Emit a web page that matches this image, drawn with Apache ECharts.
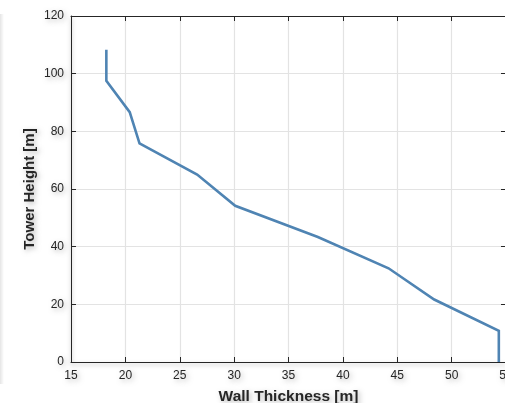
<!DOCTYPE html>
<html>
<head>
<meta charset="utf-8">
<script src="https://cdn.jsdelivr.net/npm/echarts@6/dist/echarts.min.js"></script>
<style>
  html, body { margin: 0; padding: 0; background: #ffffff; }
  #chart { width: 505px; height: 403px; }
</style>
</head>
<body>
<div id="chart"></div>
<script>
// Wall thickness profile along the tower height, from base to top
const wallThickness = [54.34, 54.34, 48.4, 44.2, 37.7, 30.1, 26.6, 21.3, 20.4, 18.25, 18.25];
const towerHeight   = [0, 10.83, 21.67, 32.5, 43.33, 54.17, 65, 75.83, 86.67, 97.5, 108.33];

const xTicks = { min: 15, max: 55, step: 5 };
const yTicks = { min: 0, max: 120, step: 20 };

const xName = 'Wall Thickness [m]';
const yName = 'Tower Height [m]';

const profile = wallThickness.map((t, i) => [t, towerHeight[i]]);

const FONT = '"Liberation Sans", Arial, Helvetica, sans-serif';
const shadowText = {
  textShadowColor: 'rgba(0,0,0,0.28)',
  textShadowBlur: 5,
  textShadowOffsetX: 2,
  textShadowOffsetY: 2
};
const axisLineStyle = {
  color: '#262626',
  width: 1,
  shadowColor: 'rgba(0,0,0,0.35)',
  shadowBlur: 4,
  shadowOffsetY: 2
};
const gridLine = { show: true, lineStyle: { color: '#e3e3e3', width: 1.2 } };

const chart = echarts.init(document.getElementById('chart'), null, { renderer: 'canvas' });

chart.setOption({
  animation: false,
  backgroundColor: '#ffffff',
  // the plot box runs slightly past the right edge of the canvas
  grid: { left: 71, top: 16, width: 435, height: 346, containLabel: false, outerBoundsMode: 'none' },
  graphic: [{
    type: 'rect',
    shape: { x: 0, y: 14, width: 4, height: 370 },
    style: {
      fill: new echarts.graphic.LinearGradient(0, 0, 1, 0, [
        { offset: 0, color: 'rgba(0,0,0,0.10)' },
        { offset: 1, color: 'rgba(0,0,0,0)' }
      ])
    },
    silent: true
  }],
  xAxis: [{
    type: 'value',
    min: xTicks.min, max: xTicks.max, interval: xTicks.step,
    position: 'bottom',
    name: xName,
    nameLocation: 'middle',
    nameGap: 27,
    nameMoveOverlap: false,
    nameTextStyle: Object.assign({ fontFamily: FONT, fontSize: 15.5, fontWeight: 'bold', color: '#262626' }, shadowText),
    axisLine: { show: true, onZero: false, lineStyle: axisLineStyle },
    axisTick: { show: true, inside: true, length: 5, lineStyle: { color: '#262626' } },
    axisLabel: Object.assign({ fontFamily: FONT, fontSize: 12, color: '#262626', margin: 8 }, shadowText),
    splitLine: gridLine
  }, {
    type: 'value',
    min: xTicks.min, max: xTicks.max, interval: xTicks.step,
    position: 'top',
    axisLine: { show: true, onZero: false, lineStyle: { color: '#262626', width: 1 } },
    axisTick: { show: true, inside: true, length: 5, lineStyle: { color: '#262626' } },
    axisLabel: { show: false },
    splitLine: { show: false }
  }],
  yAxis: [{
    type: 'value',
    min: yTicks.min, max: yTicks.max, interval: yTicks.step,
    position: 'left',
    name: yName,
    nameLocation: 'middle',
    nameGap: 34,
    nameMoveOverlap: false,
    nameTextStyle: Object.assign({ fontFamily: FONT, fontSize: 15, fontWeight: 'bold', color: '#262626' }, shadowText),
    axisLine: { show: true, onZero: false, lineStyle: axisLineStyle },
    axisTick: { show: true, inside: true, length: 5, lineStyle: { color: '#262626' } },
    axisLabel: Object.assign({ fontFamily: FONT, fontSize: 12, color: '#262626', margin: 7 }, shadowText),
    splitLine: gridLine
  }, {
    type: 'value',
    min: yTicks.min, max: yTicks.max, interval: yTicks.step,
    position: 'right',
    axisLine: { show: true, onZero: false, lineStyle: { color: '#262626', width: 1 } },
    axisTick: { show: true, inside: true, length: 5, lineStyle: { color: '#262626' } },
    axisLabel: { show: false },
    splitLine: { show: false }
  }],
  series: [{
    type: 'line',
    xAxisIndex: 0,
    yAxisIndex: 0,
    data: profile,
    showSymbol: false,
    symbol: 'none',
    lineStyle: { color: '#4f84b3', width: 2.6, join: 'miter' },
    z: 5
  }]
});
</script>
</body>
</html>
